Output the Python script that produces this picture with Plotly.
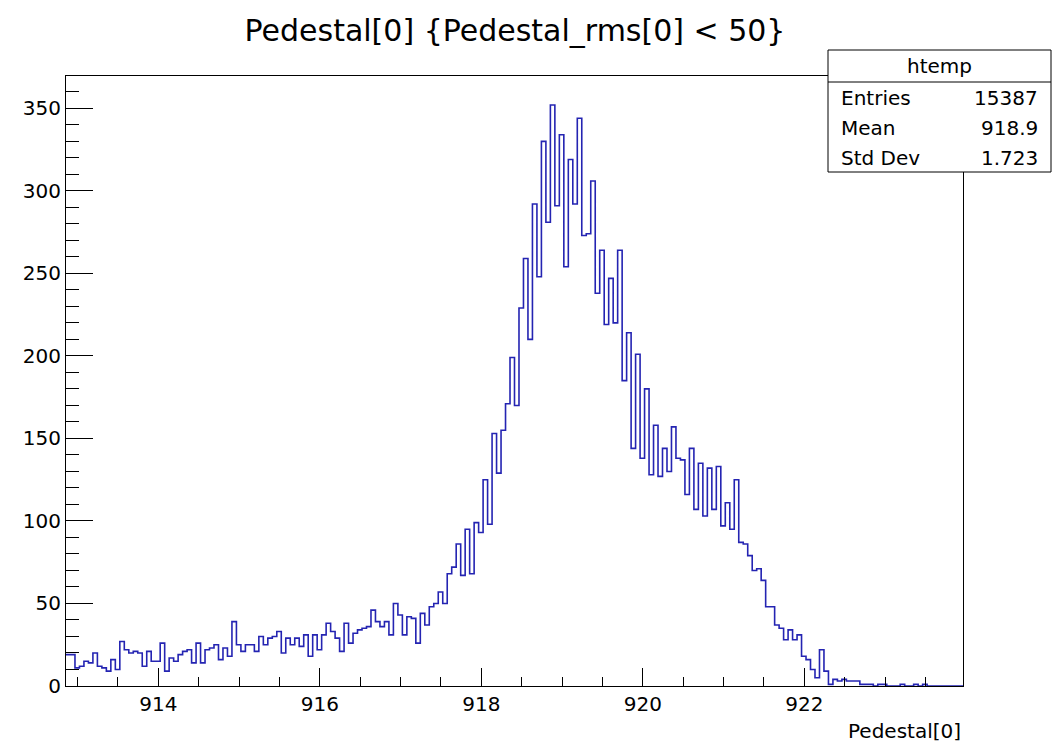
import plotly.graph_objects as go

# Histogram "htemp": Pedestal[0] for entries with Pedestal_rms[0] < 50
N_BINS = 200
X_LOW, X_HIGH = 912.857, 923.965

COUNTS = [
    # 912.86 - 914.6
    19, 19, 11, 12, 15, 14, 20, 12, 11, 9, 16, 10, 27, 22, 20, 21,
    20, 12, 21, 15, 15, 26, 9, 17, 15, 19, 21, 22, 14, 26, 14, 22,
    # 914.6 - 916.4
    23, 25, 16, 23, 18, 39, 25, 21, 25, 25, 21, 30, 25, 29, 30, 33,
    20, 29, 25, 29, 24, 31, 18, 31, 22, 31, 38, 33, 29, 21, 38, 26,
    # 916.4 - 918.0
    32, 34, 35, 36, 46, 39, 36, 39, 31, 50, 43, 31, 42, 41, 26, 44,
    37, 48, 50, 57, 50, 68, 72, 86, 67, 95, 68, 99, 93,
    # 918.0 - 919.5
    125, 98, 153, 129, 155, 171, 199, 170, 229, 259, 210, 292, 248,
    330, 281, 352, 291, 334, 254, 319, 292, 344, 273, 274, 306, 238,
    # 919.5 - 920.9
    264, 219, 247, 220, 264, 185, 214, 144, 201, 138, 180, 128, 158,
    127, 144, 130, 157, 138, 137, 116, 144, 107, 135, 103, 132,
    # 920.9 - 923.97
    107, 133, 97, 111, 95, 125, 87, 86, 79, 70, 71, 64, 48, 48, 37, 35,
    28, 34, 28, 31, 18, 16, 10, 5, 22, 9, 1, 4, 3, 4, 3, 3,
    3, 1, 1, 1, 0, 1, 1, 0, 0, 0, 1, 0, 0, 1, 0, 1,
    0, 0, 0, 0, 0, 0, 0, 0,
]

X_TICKS = [914, 916, 918, 920, 922]
Y_TICKS = [0, 50, 100, 150, 200, 250, 300, 350]

STATS_NAME = "htemp"
STATS_ROWS = [("Entries", "15387"), ("Mean", "918.9"), ("Std Dev", "1.723")]

TITLE = "Pedestal[0] {Pedestal_rms[0] < 50}"
X_TITLE = "Pedestal[0]"

W, H = 1064, 743
ML, MR, MT, MB = 66, 101, 76, 57
PW, PH = W - ML - MR, H - MT - MB

FONT = "DejaVu Sans, Liberation Sans, Arial, sans-serif"
LINE_BLUE = "#2424b2"

bin_w = (X_HIGH - X_LOW) / N_BINS
edges = [X_LOW + k * bin_w for k in range(N_BINS + 1)]
steps = COUNTS + [COUNTS[-1]]


def px(xp):
    return (xp - ML) / PW


def py(yp):
    return (H - MB - yp) / PH


fig = go.Figure()
fig.add_trace(go.Scatter(
    x=edges, y=steps, mode="lines",
    line=dict(shape="hv", color=LINE_BLUE, width=1.6),
    hoverinfo="skip", showlegend=False,
))

axis_common = dict(
    showline=True, mirror=True, linecolor="black", linewidth=1,
    showgrid=False, zeroline=False, ticks="inside", tickcolor="black",
    tickwidth=1, tickfont=dict(family=FONT, size=20, color="black"),
    automargin=False,
)

fig.update_xaxes(
    range=[X_LOW, X_HIGH], tickmode="linear", tick0=X_TICKS[0],
    dtick=X_TICKS[1] - X_TICKS[0], ticklen=18,
    minor=dict(ticks="inside", dtick=0.5, tick0=X_TICKS[0], ticklen=9,
               tickcolor="black", tickwidth=1, showgrid=False),
    **axis_common,
)
fig.update_yaxes(
    range=[0, 1.05 * max(COUNTS)], tickmode="linear", tick0=Y_TICKS[0],
    dtick=Y_TICKS[1] - Y_TICKS[0], ticklen=27,
    minor=dict(ticks="inside", dtick=10, ticklen=13,
               tickcolor="black", tickwidth=1, showgrid=False),
    **axis_common,
)

# statistics box
bx0, bx1, by0, by1, bsep = 828, 1051, 50, 172, 82
shapes = [
    dict(type="rect", xref="paper", yref="paper",
         x0=px(bx0), x1=px(bx1), y0=py(by1), y1=py(by0),
         fillcolor="white", line=dict(color="black", width=1), layer="above"),
    dict(type="line", xref="paper", yref="paper",
         x0=px(bx0), x1=px(bx1), y0=py(bsep), y1=py(bsep),
         line=dict(color="black", width=1), layer="above"),
]

annotations = [
    dict(text=STATS_NAME, x=px((bx0 + bx1) / 2), y=py(66), xref="paper",
         yref="paper", xanchor="center", yanchor="middle", showarrow=False,
         font=dict(family=FONT, size=20, color="black")),
    dict(text=X_TITLE, x=1.0, y=py(731), xref="paper", yref="paper",
         xanchor="right", yanchor="middle", showarrow=False,
         font=dict(family=FONT, size=20, color="black")),
]
for row, (name, val) in enumerate(STATS_ROWS):
    yrow = py(98 + 30 * row)
    annotations.append(dict(text=name, x=px(839), y=yrow, xref="paper",
                            yref="paper", xanchor="left", yanchor="middle",
                            showarrow=False,
                            font=dict(family=FONT, size=20, color="black")))
    annotations.append(dict(text=val, x=px(1040), y=yrow, xref="paper",
                            yref="paper", xanchor="right", yanchor="middle",
                            showarrow=False,
                            font=dict(family=FONT, size=20, color="black")))

fig.update_layout(
    width=W, height=H,
    margin=dict(l=ML, r=MR, t=MT, b=MB, pad=0),
    paper_bgcolor="white", plot_bgcolor="white",
    title=dict(text=TITLE, x=515 / W, xanchor="center", y=1 - 30 / H,
               yanchor="middle", font=dict(family=FONT, size=30, color="black")),
    shapes=shapes, annotations=annotations, showlegend=False,
)

fig.write_html("out.html")
